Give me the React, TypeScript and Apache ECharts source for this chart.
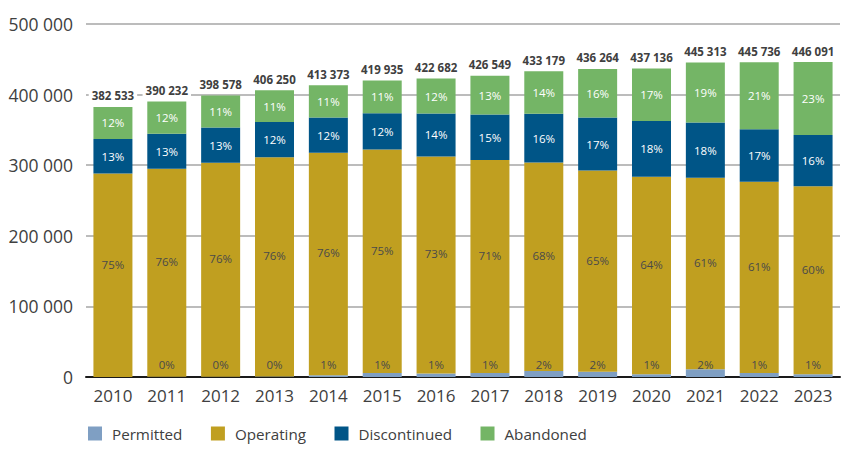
import React, { useEffect, useRef } from "react";
import * as echarts from "echarts";

const years = ["2010", "2011", "2012", "2013", "2014", "2015", "2016", "2017", "2018", "2019", "2020", "2021", "2022", "2023"];
const totals = [382533, 390232, 398578, 406250, 413373, 419935, 422682, 426549, 433179, 436264, 437136, 445313, 445736, 446091];
const permitted = [0, 300, 400, 700, 2500, 5800, 5000, 5600, 8500, 7500, 3800, 10900, 5600, 3800];
const operating = [288133, 294732, 303078, 310450, 315273, 316435, 307382, 301649, 295279, 285064, 279736, 271413, 270936, 266491];
const discontinued = [49100, 49500, 49900, 49900, 49900, 51200, 60800, 64600, 69200, 74900, 79100, 78200, 74500, 72600];
const abandoned = [45300, 45700, 45200, 45200, 45700, 46500, 49500, 54700, 60200, 68800, 74500, 84800, 94700, 103200];

const FONT = "'Open Sans', 'Noto Sans', sans-serif";
const TEXT = "#404040";

const fmtThousands = (v: number) => String(v).replace(/\B(?=(\d{3})+(?!\d))/g, " ");
const pct = (v: number, i: number) => Math.round((v / totals[i]) * 100) + "%";

export default function App() {
  const ref = useRef<HTMLDivElement>(null);
  useEffect(() => {
    if (!ref.current) return;
    const chart = echarts.init(ref.current, null, { renderer: "svg" });
    const labelBase = { fontFamily: FONT, fontSize: 11.5 };
    const barCommon = { type: "bar" as const, stack: "s", barWidth: 39 };
    chart.setOption({
      animation: false,
      textStyle: { fontFamily: FONT },
      grid: { left: 86, right: 20, top: 24, bottom: 80 },
      legend: {
        data: ["Permitted", "Operating", "Discontinued", "Abandoned"],
        left: 83,
        top: 421,
        itemWidth: 14,
        itemHeight: 14,
        itemGap: 28.5,
        icon: "rect",
        textStyle: { fontFamily: FONT, fontSize: 15.2, color: TEXT, padding: [0, 0, 0, 5] },
      },
      xAxis: {
        type: "category",
        data: years,
        axisLine: { lineStyle: { color: "#1a1a1a", width: 2 } },
        axisTick: { show: false },
        axisLabel: { fontFamily: FONT, fontSize: 17, color: TEXT, margin: 10 },
      },
      yAxis: {
        type: "value",
        min: 0,
        max: 500000,
        interval: 100000,
        axisLine: { show: false },
        axisTick: { show: false },
        splitLine: { lineStyle: { color: "#a6a6a6", width: 1.5 } },
        axisLabel: { fontFamily: FONT, fontSize: 17.5, color: TEXT, margin: 13, formatter: (v: number) => fmtThousands(v) },
      },
      series: [
        {
          ...barCommon,
          name: "Permitted",
          data: permitted,
          itemStyle: { color: "#7f9fc3" },
          label: {
            show: true,
            position: "insideBottom",
            distance: 7,
            ...labelBase,
            color: "#4a4a4a",
            formatter: (p: any) => (p.value > 0 ? pct(p.value, p.dataIndex) : ""),
          },
        },
        {
          ...barCommon,
          name: "Operating",
          data: operating,
          itemStyle: { color: "#c09f20" },
          label: {
            show: true,
            position: "inside",
            offset: [0, -11],
            ...labelBase,
            color: "#4a4a4a",
            formatter: (p: any) => pct(p.value, p.dataIndex),
          },
        },
        {
          ...barCommon,
          name: "Discontinued",
          data: discontinued,
          itemStyle: { color: "#005587" },
          label: {
            show: true,
            position: "inside",
            ...labelBase,
            color: "#ffffff",
            formatter: (p: any) => pct(p.value, p.dataIndex),
          },
        },
        {
          ...barCommon,
          name: "Abandoned",
          data: abandoned,
          itemStyle: { color: "#74b566" },
          label: {
            show: true,
            position: "inside",
            ...labelBase,
            color: "#ffffff",
            formatter: (p: any) => pct(p.value, p.dataIndex),
          },
        },
        {
          ...barCommon,
          name: "Total",
          data: totals.map(() => 0),
          itemStyle: { color: "transparent" },
          label: {
            show: true,
            position: "top",
            distance: 4,
            fontFamily: FONT,
            fontSize: 11.5,
            fontWeight: "bold",
            color: "#404040",
            backgroundColor: "#ffffff",
            padding: [1, 3],
            formatter: (p: any) => fmtThousands(totals[p.dataIndex]),
          },
        },
      ],
    });
    return () => chart.dispose();
  }, []);
  return <div ref={ref} style={{ width: 860, height: 457, position: "absolute", left: 0, top: 0 }} />;
}
